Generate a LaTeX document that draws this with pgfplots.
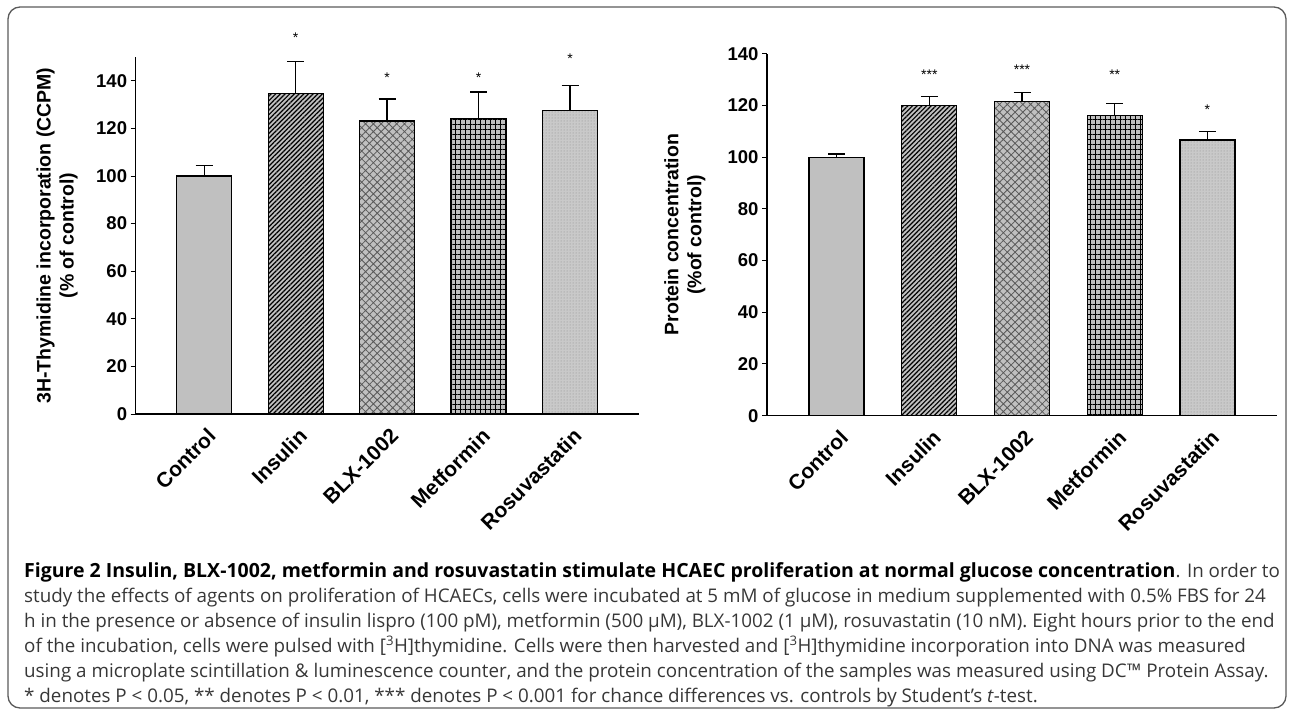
\documentclass[border=0pt]{standalone}
\usepackage{fontspec}
\setmainfont{Liberation Sans}
\newfontfamily\capfont{Open Sans}
\usepackage{pgfplots}
\pgfplotsset{compat=1.18}
\usetikzlibrary{patterns.meta}
\definecolor{barfill}{RGB}{192,192,192}
\definecolor{framegray}{RGB}{90,90,90}
\definecolor{captext}{RGB}{55,55,55}

\pgfplotsset{
  chart/.style={
    scale only axis, anchor=south west,
    xmin=0.25, xmax=5.75, ymin=0,
    axis x line=bottom, axis y line=left,
    axis line style={-, line width=1.3pt, black},
    xtick={1,2,3,4,5},
    xticklabels={Control,Insulin,BLX-1002,Metformin,Rosuvastatin},
    x tick style={draw=none},
    y tick style={line width=1pt, black},
    tick align=outside, major tick length=5pt,
    ytick={0,20,...,140},
    /pgf/number format/assume math mode=true,
    yticklabel style={font=\fontsize{18.5}{20}\selectfont\bfseries},
    xticklabel style={rotate=45, anchor=north east, font=\fontsize{21}{23}\selectfont\bfseries,
      inner sep=2pt, xshift=-2pt, yshift=-5pt},
    ylabel style={align=center, anchor=center, font=\fontsize{19.5}{23}\selectfont\bfseries},
    clip=false,
  },
  bar/.style={ybar, bar width=55pt, bar shift=0pt, draw=black, line width=1.2pt, fill=barfill,
    error bars/y dir=plus, error bars/y explicit,
    error bars/error bar style={line width=1.3pt, black},
    error bars/error mark options={rotate=90, line width=1.3pt, black, mark size=8.5pt}},
  stars/.style={draw=none, mark=none, nodes near coords, point meta=explicit symbolic,
    nodes near coords style={anchor=center, font=\fontsize{14}{14}\selectfont}},
  pins/.style={postaction={pattern={Lines[angle=45,distance=3.3pt,line width=1.2pt]}, pattern color=black}},
  pblx/.style={postaction={pattern={Hatch[angle=45,distance=5.5pt,line width=0.8pt]}, pattern color=black!65}},
  pmet/.style={postaction={pattern={Hatch[angle=0,distance=5pt,line width=1pt]}, pattern color=black}},
  prosu/.style={fill=barfill!85, postaction={pattern={Dots[distance=3pt,radius=0.5pt]}, pattern color=black!45}},
}

\begin{document}
\begin{tikzpicture}
\useasboundingbox (0pt,0pt) rectangle (1293pt,-715pt);
\draw[framegray, line width=1.3pt, rounded corners=12pt] (8pt,-7pt) rectangle (1286pt,-708pt);

\begin{axis}[chart, at={(135.6pt,-414pt)}, width=503pt, height=357pt, ymax=150,
  ylabel={3H-Thymidine incorporation (CCPM)\\(\% of control)},
  ylabel style={at={(axis description cs:-0.156,0.5)}}]
\addplot[bar] coordinates {(1,100) +- (0,4.3)};
\addplot[bar, pins] coordinates {(2,134.5) +- (0,13.7)};
\addplot[bar, pblx] coordinates {(3,123.1) +- (0,9.3)};
\addplot[bar, pmet] coordinates {(4,124.2) +- (0,11.1)};
\addplot[bar, prosu] coordinates {(5,127.6) +- (0,10.3)};
\addplot[stars] coordinates {(2,158)[*] (3,141.5)[*] (4,141.5)[*] (5,149.5)[*]};
\end{axis}

\begin{axis}[chart, at={(767pt,-415.7pt)}, width=510pt, height=362pt, ymax=140,
  ylabel={Protein concentration\\(\%of control)},
  ylabel style={at={(axis description cs:-0.161,0.5)}}]
\addplot[bar] coordinates {(1,100) +- (0,1.2)};
\addplot[bar, pins] coordinates {(2,120) +- (0,3.4)};
\addplot[bar, pblx] coordinates {(3,121.5) +- (0,3.4)};
\addplot[bar, pmet] coordinates {(4,116.2) +- (0,4.6)};
\addplot[bar, prosu] coordinates {(5,106.6) +- (0,3.4)};
\addplot[stars] coordinates {(2,132)[***] (3,134)[***] (4,132)[**] (5,118.5)[*]};
\end{axis}

\begin{scope}[every node/.style={anchor=base west, inner sep=0pt, text=captext, font=\capfont\fontsize{18.8}{25}\selectfont}]
\node at (24pt,-577pt) {\textcolor{black}{\fontsize{19.5}{25}\selectfont\textbf{Figure 2 Insulin, BLX-1002, metformin and rosuvastatin stimulate HCAEC proliferation at normal glucose concentration}}. In order to};
\node at (24pt,-602pt) {study the effects of agents on proliferation of HCAECs, cells were incubated at 5 mM of glucose in medium supplemented with 0.5\% FBS for 24};
\node at (24pt,-627pt) {h in the presence or absence of insulin lispro (100 pM), metformin (500 µM), BLX-1002 (1 µM), rosuvastatin (10 nM). Eight hours prior to the end};
\node at (24pt,-652pt) {of the incubation, cells were pulsed with [\textsuperscript{3}H]thymidine. Cells were then harvested and [\textsuperscript{3}H]thymidine incorporation into DNA was measured};
\node at (24pt,-677pt) {using a microplate scintillation \& luminescence counter, and the protein concentration of the samples was measured using DC™ Protein Assay.};
\node at (24pt,-702pt) {* denotes P < 0.05, ** denotes P < 0.01, *** denotes P < 0.001 for chance differences vs. controls by Student’s \textit{t}-test.};
\end{scope}
\end{tikzpicture}
\end{document}
